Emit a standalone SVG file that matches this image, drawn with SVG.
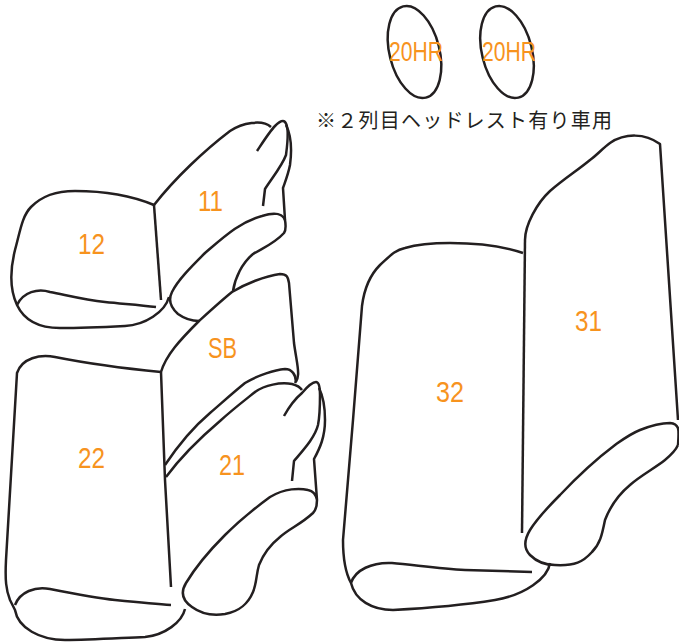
<svg xmlns="http://www.w3.org/2000/svg" width="679" height="642" viewBox="0 0 679 642">
<style>
.l{fill:none;stroke:#231f20;stroke-width:2.5;stroke-linecap:butt;stroke-linejoin:round}
.n{font-family:"Liberation Sans","Noto Sans",sans-serif;font-size:30px;fill:#f7931e}
.j{font-family:"Noto Sans CJK JP",sans-serif;font-size:20px;fill:#231f20}
</style>
<rect width="679" height="642" fill="#fff"/>
<g id="hr1"><ellipse class="l" cx="414.500" cy="52" rx="25" ry="47" transform="rotate(-14 414.500 52)"/><text class="n" x="389" y="61" textLength="54" lengthAdjust="spacingAndGlyphs" style="font-size:27px">20HR</text></g>
<g id="hr2"><ellipse class="l" cx="507" cy="52" rx="25" ry="47" transform="rotate(-14 507 52)"/><text class="n" x="482" y="61" textLength="54" lengthAdjust="spacingAndGlyphs" style="font-size:27px">20HR</text></g>
<text class="j" id="note" x="316" y="128" textLength="296">※２列目ヘッドレスト有り車用</text>
<g id="s11">
<path class="l" d="M154 205C175 178 205 150 230 131C242 123 262 119 271 127"/>
<path class="l" d="M257 151C263 142 270 131 275 126C279 122 283 120 285 122C289 126 288 140 286 155C282 166 272 178 265 189L263 206"/>
<path class="l" d="M286 125C291 135 292 150 290 165C288 175 285 182 283 188L285 220C286 226 286 230 284 233C275 243 265 247 253 254C242 263 235 278 233 291"/>
<path class="l" d="M285 220C282 213 275 212 262 216C240 222 225 236 205 253C190 268 178 280 172 292C168 300 170 307 178 314C185 319 192 321 199 321"/>
<text class="n" x="198" y="211" textLength="25" lengthAdjust="spacingAndGlyphs">11</text>
</g>
<g id="s12">
<path class="l" d="M154 205C130 195 100 191 75 191C55 191 42 196 31 207C22 216 20 232 15 250C10 270 10 290 17 305C25 322 40 328 60 328C85 328 105 327 125 326C145 325 165 312 169 297"/>
<path class="l" d="M154 205L161 300"/>
<path class="l" d="M17 305C23 292 38 288 50 292C70 296 85 300 105 302C125 304 140 305 156 307"/>
<text class="n" x="78" y="254" textLength="27" lengthAdjust="spacingAndGlyphs">12</text>
</g>
<g id="sb">
<path class="l" d="M161 372C166 355 180 340 199 321C210 311 222 300 232 292C245 284 265 276 280 274C287 274 288 277 289 283L294 343C296 358 299 370 298 375C298 379 296 381 295 383"/>
<path class="l" d="M165 465C175 450 190 430 210 413C225 400 235 391 245 383C258 375 275 370 285 369C292 369 296 375 296 382"/>
<text class="n" x="208" y="358" textLength="29" lengthAdjust="spacingAndGlyphs">SB</text>
</g>
<g id="s21">
<path class="l" d="M166 477C180 458 200 438 220 421C232 410 245 400 255 392C265 385 280 382 292 384C296 385 300 387 302 390"/>
<path class="l" d="M284 416C289 407 296 398 302 393C307 387 312 382 316 382C319 382 320 387 320 395C320 405 320 415 318 425C315 437 305 448 294 461L292 481"/>
<path class="l" d="M319 388C323 396 325 410 325 420C325 437 320 448 314 459L317 500C317 506 316 510 313 513C300 525 290 528 280 537C270 545 263 555 259 565C256 575 257 582 253 592C248 604 240 611 225 614C212 616 200 613 192 607C183 601 180 593 186 583C195 568 205 555 225 535C240 520 255 508 270 497C285 488 300 488 308 490C314 491 316 495 317 500"/>
<text class="n" x="219" y="475" textLength="26" lengthAdjust="spacingAndGlyphs">21</text>
</g>
<g id="s22">
<path class="l" d="M161 372C130 369 90 364 55 357C40 354 22 358 17 373L6 560C5 580 6 590 10 600L15 610C18 628 40 640 65 640C90 640 120 638 145 637C165 635 182 622 185 609"/>
<path class="l" d="M161 372L165 480L171 587"/>
<path class="l" d="M15 605C20 592 35 586 50 589C70 593 95 598 115 600C135 602 155 604 171 605"/>
<text class="n" x="78" y="468" textLength="27" lengthAdjust="spacingAndGlyphs">22</text>
</g>
<g id="s31">
<path class="l" d="M525 240C525 225 537 203 550 191C565 178 578 170 590 160C597 155 603 148 610 143C625 133 645 133 660 144L678 420"/>
<path class="l" d="M525 240L522 533"/>
<path class="l" d="M678 445C679 430 680 424 670 423C660 423 650 426 640 430C630 434 622 440 615 445C595 460 577 477 560 495C545 510 535 522 530 530C524 540 524 549 530 555C537 562 545 565 555 565C575 566 583 562 592 552C600 544 602 535 605 520C610 507 618 495 630 485C640 476 655 468 665 460C671 455 676 450 678 445"/>
<text class="n" x="575" y="331" textLength="27" lengthAdjust="spacingAndGlyphs">31</text>
</g>
<g id="s32">
<path class="l" d="M523 253C500 245 475 243 450 243C430 243 415 245 405 248C395 250 390 256 380 265C370 275 364 290 362 306L353 420L343 540C343 560 345 572 351 583C355 600 372 610 393 610C430 608 470 604 495 600C525 595 548 578 550 563"/>
<path class="l" d="M351 583C355 570 372 562 392 563C415 565 440 569 465 570L532 572"/>
<text class="n" x="436" y="402" textLength="28" lengthAdjust="spacingAndGlyphs">32</text>
</g>
</svg>
